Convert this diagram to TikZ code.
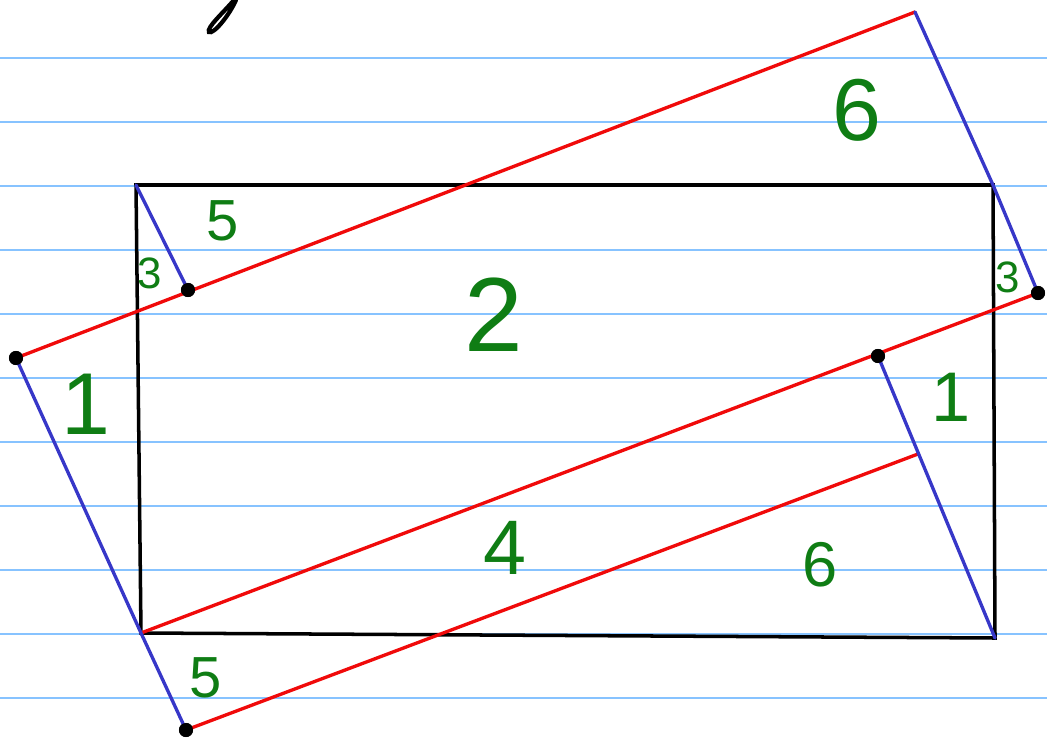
\documentclass[tikz,border=0pt]{standalone}
\usepackage{fontspec}
\setmainfont{Liberation Sans}
\usepackage{tikz}
\usetikzlibrary{positioning}
\definecolor{RuleBlue}  {RGB}{135, 195, 255}
\definecolor{EdgeRed}   {RGB}{240, 10,  10}
\definecolor{EdgeBlue}  {RGB}{55,  55,  200}
\definecolor{LabelGreen}{RGB}{15,  125, 20}

\newcommand{\numsize}[1]{\fontsize{#1}{#1}\selectfont}

\begin{document}
\begin{tikzpicture}[
  x=0.02cm, y=-0.02cm,
  rule/.style = {RuleBlue, line width=1.1pt},
  frame/.style = {black, line width=2pt, line cap=round},
  redline/.style = {EdgeRed, line width=1.9pt, line cap=round},
  blueline/.style = {EdgeBlue, line width=1.9pt, line cap=round, line join=round},
  dot/.style = {circle, fill=black, inner sep=0pt, minimum size=8pt},
  num/.style = {text=LabelGreen, inner sep=0pt}
]
\useasboundingbox (0,0) rectangle (1047,740);

% ruled paper
\foreach \y in {58,122,...,698}
  \draw[rule] (0,\y) -- (1047,\y);

% pen stroke at the top
\draw[black, line width=2.4pt, line cap=round]
  (234,0) .. controls (224,12) and (206,28) .. (209,32)
  .. controls (213,35) and (229,16) .. (236,0);

% rectangle
\coordinate (tl) at (136,185);
\coordinate (tr) at (993,185);
\coordinate (br) at (995,638);
\coordinate (bl) at (141,633);
\draw[frame] (tl) -- (tr) -- (br) -- (bl) -- cycle;

% points of the rotated rectangles
\node[dot] (pleft) at (16,358) {};
\node[dot] (pinner) at (188,290) {};
\node[dot] (pright) at (1038,293) {};
\node[dot] (pmid) at (878,356) {};
\node[dot] (pbottom) at (186,730) {};
\coordinate (ptop) at (915,12);
\coordinate (plow) at (918,454);

% red sides
\draw[redline] (pleft.center) -- (ptop);
\draw[redline] (bl) -- (pright.center);
\draw[redline] (pbottom.center) -- (plow);

% blue sides
\draw[blueline] (tl) -- (pinner.center);
\draw[blueline] (ptop) -- (tr) -- (pright.center);
\draw[blueline] (pleft.center) -- (bl) -- (pbottom.center);
\draw[blueline] (pmid.center) -- (br);

% dots on top
\foreach \p in {pleft,pinner,pright,pmid,pbottom}
  \node[dot] at (\p) {};

% labels
\node[num, font=\numsize{50pt}] (six1) at (857,110) {6};
\node[num, font=\numsize{33pt}] (five1) at (223,221) {5};
\node[num, font=\numsize{25pt}] (three1) at (150,273) {3};
\node[num, font=\numsize{60pt}] (two) at (494,315) {2};
\node[num, font=\numsize{25pt}] (three2) at (1008,277) {3};
\node[num, font=\numsize{50pt}] (one1) at (86,404) {1};
\node[num, font=\numsize{40pt}] (one2) at (951,397) {1};
\node[num, font=\numsize{44pt}] (four) at (505,548) {4};
\node[num, font=\numsize{36pt}] (six2) at (820,565) {6};
\node[num, font=\numsize{33pt}] (five2) at (206,678) {5};

\end{tikzpicture}
\end{document}
